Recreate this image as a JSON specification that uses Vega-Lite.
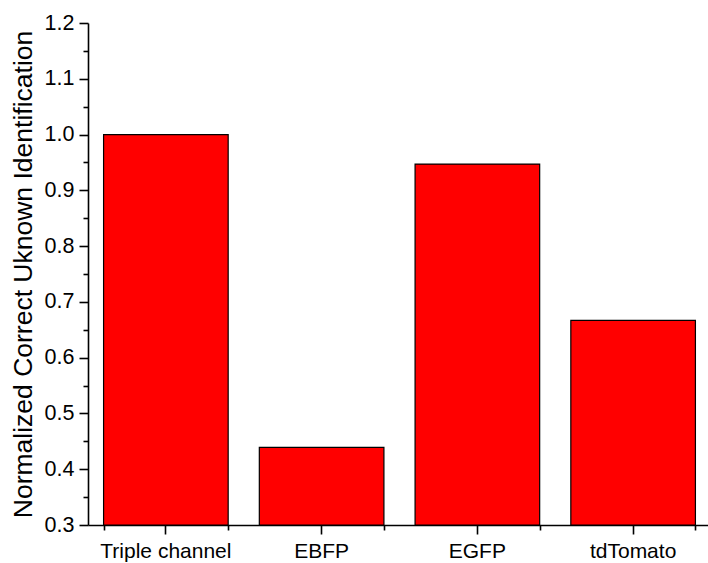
{
  "$schema": "https://vega.github.io/schema/vega-lite/v6.json",
  "autosize": "none",
  "width": 623,
  "height": 502,
  "padding": {"left": 88, "top": 23, "right": 0, "bottom": 38},
  "background": "white",
  "config": {
    "view": {"stroke": null},
    "font": "Liberation Sans",
    "axis": {
      "labelFont": "Liberation Sans",
      "titleFont": "Liberation Sans",
      "labelColor": "black",
      "titleColor": "black",
      "domainColor": "black",
      "tickColor": "black",
      "domainWidth": 1.6,
      "tickWidth": 1.6,
      "grid": false
    }
  },
  "data": {
    "values": [
      {"channel": "Triple channel", "value": 1.0},
      {"channel": "EBFP", "value": 0.439},
      {"channel": "EGFP", "value": 0.947},
      {"channel": "tdTomato", "value": 0.667}
    ]
  },
  "encoding": {
    "x": {
      "field": "channel",
      "type": "nominal",
      "sort": null,
      "scale": {"paddingInner": 0.2, "paddingOuter": 0.1}
    },
    "y": {
      "field": "value",
      "type": "quantitative",
      "scale": {"domain": [0.3, 1.2], "nice": false, "zero": false},
      "axis": {
        "title": "Normalized Correct Uknown Identification",
        "titleFontSize": 26.5,
        "titleFontWeight": "normal",
        "titlePadding": 7,
        "labelFontSize": 21.5,
        "labelPadding": 5,
        "values": [0.3, 0.35, 0.4, 0.45, 0.5, 0.55, 0.6, 0.65, 0.7, 0.75, 0.8, 0.85, 0.9, 0.95, 1.0, 1.05, 1.1, 1.15, 1.2],
        "labelExpr": "round(datum.value * 100) % 10 == 0 ? format(datum.value, '.1f') : ''",
        "tickSize": {"condition": {"test": "round(datum.value * 100) % 10 == 0", "value": 9}, "value": 5}
      }
    },
    "y2": {"datum": 0.3}
  },
  "layer": [
    {
      "mark": {"type": "bar", "fill": "#ff0000", "stroke": "black", "strokeWidth": 1.2},
      "encoding": {
        "x": {
          "field": "channel",
          "type": "nominal",
          "sort": null,
          "axis": {
            "orient": "bottom",
            "title": null,
            "labelAngle": 0,
            "labelFontSize": 21,
            "labelPadding": 6,
            "tickSize": 9
          }
        }
      }
    },
    {
      "mark": {"type": "bar", "fillOpacity": 0, "strokeOpacity": 0},
      "encoding": {
        "x": {
          "field": "channel",
          "type": "nominal",
          "sort": null,
          "axis": {
            "orient": "bottom",
            "title": null,
            "labels": false,
            "domain": false,
            "tickBand": "extent",
            "tickSize": 5
          }
        }
      }
    }
  ],
  "resolve": {"axis": {"x": "independent"}}
}
